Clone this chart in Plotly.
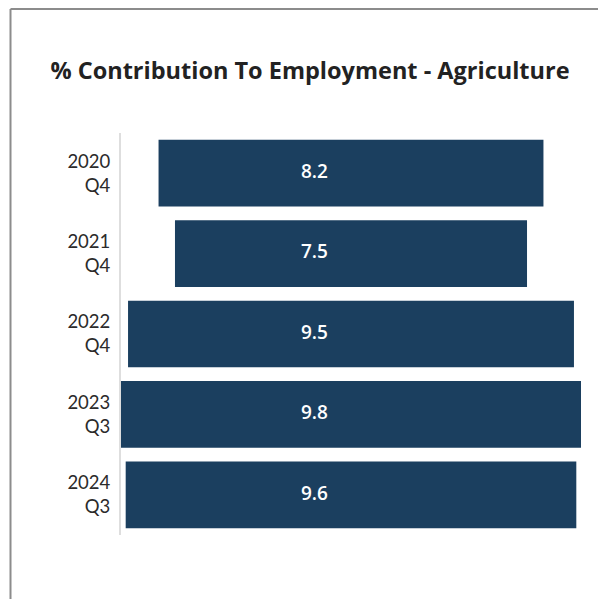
import plotly.graph_objects as go

periods = ["2020<br>Q4", "2021<br>Q4", "2022<br>Q4", "2023<br>Q3", "2024<br>Q3"]
values = [8.2, 7.5, 9.5, 9.8, 9.6]
title_text = "% Contribution To Employment - Agriculture"

bar_color = "#1b3f5f"

fig = go.Figure()
fig.add_trace(go.Funnel(
    y=periods, x=values,
    marker=dict(color=bar_color),
    textinfo="none",
    connector=dict(visible=False),
    hoverinfo="x+y",
))
fig.add_trace(go.Scatter(
    y=periods, x=[-0.78] * len(values),
    mode="text",
    text=[f"{v:.1f}" for v in values],
    textfont=dict(family="Open Sans", size=19, color="white", weight=600),
    showlegend=False, hoverinfo="skip",
))

px_l, px_r, py_t, py_b = 121, 581, 133, 535
def px2x(px):
    return (px - px_l) / (px_r - px_l)
def py2y(py):
    return (py_b - py) / (py_b - py_t)

fig.update_layout(
    width=598, height=599,
    margin=dict(l=121, r=17, t=133, b=64),
    paper_bgcolor="white", plot_bgcolor="white",
    showlegend=False,
    funnelgap=0.17,
    title=dict(text=title_text, x=310 / 598, xanchor="center", xref="container",
               y=1 - 71 / 599, yanchor="middle", yref="container",
               font=dict(family="Open Sans", size=23.5, color="#222222", weight=700)),
    xaxis=dict(range=[-4.9, 4.9], visible=False, showgrid=False, zeroline=False),
    yaxis=dict(type="category", categoryorder="array", categoryarray=periods,
               range=[4.5, -0.5], showgrid=False, zeroline=False,
               showline=True, linecolor="#dedede", linewidth=2,
               ticks="", ticklabelstandoff=5,
               tickfont=dict(family="Lato", size=18.5, color="#2b2b2b")),
    shapes=[
        dict(type="line", xref="paper", yref="paper", x0=px2x(10.5), x1=px2x(10.5),
             y0=py2y(610), y1=py2y(9), line=dict(color="#8c8c8c", width=2)),
        dict(type="line", xref="paper", yref="paper", x0=px2x(10.5), x1=px2x(610),
             y0=py2y(9), y1=py2y(9), line=dict(color="#8c8c8c", width=2)),
    ],
)

fig.write_html("out.html", config={"displayModeBar": False},
               post_script="document.body.style.margin='0';document.body.style.overflow='hidden';")
